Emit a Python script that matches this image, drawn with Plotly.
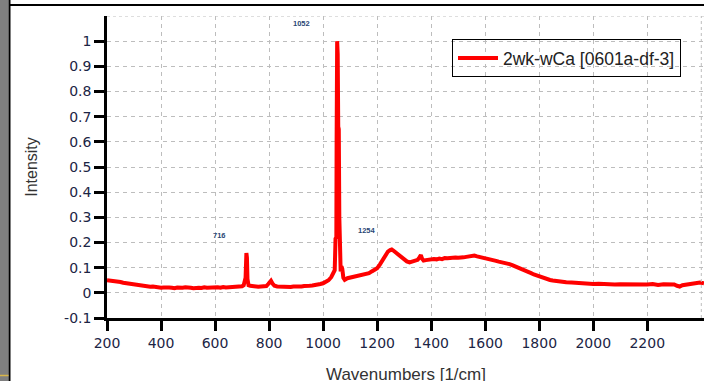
import plotly.graph_objects as go

# Raman spectrum, normalised intensity vs. wavenumber
wavenumbers = [
    200, 210, 220, 230, 240, 250, 260, 270, 280, 290, 300, 310, 320, 330, 340, 350,
    360, 370, 380, 390, 400, 410, 420, 430, 440, 450, 460, 470, 480, 490, 500, 510,
    520, 530, 540, 550, 560, 570, 580, 590, 600, 610, 620, 630, 640, 650, 660, 670,
    680, 690, 700, 706, 710, 713, 716, 718, 720, 724, 730, 740, 750, 760, 770, 780,
    790, 797, 803, 807, 812, 820, 830, 840, 850, 860, 870, 880, 890, 900, 910, 920,
    930, 940, 950, 960, 970, 980, 990, 1000, 1010, 1020, 1030, 1038, 1043, 1046, 1049, 1050,
    1052, 1054, 1056, 1058, 1060, 1062, 1065, 1068, 1071, 1075, 1080, 1090, 1100, 1110, 1120, 1130,
    1140, 1150, 1160, 1170, 1180, 1190, 1200, 1210, 1220, 1230, 1240, 1248, 1254, 1260, 1270, 1280,
    1290, 1300, 1310, 1320, 1330, 1340, 1350, 1356, 1362, 1366, 1372, 1380, 1390, 1400, 1410, 1420,
    1430, 1440, 1450, 1460, 1470, 1480, 1490, 1500, 1510, 1520, 1530, 1540, 1550, 1560, 1570, 1580,
    1590, 1600, 1610, 1620, 1630, 1640, 1650, 1660, 1670, 1680, 1690, 1700, 1710, 1720, 1730, 1740,
    1750, 1760, 1770, 1780, 1790, 1800, 1810, 1820, 1830, 1840, 1850, 1860, 1870, 1880, 1890, 1900,
    1920, 1940, 1960, 1980, 2000, 2020, 2040, 2060, 2080, 2100, 2120, 2140, 2160, 2180, 2200, 2220,
    2240, 2260, 2280, 2300, 2310, 2320, 2330, 2340, 2360, 2380, 2395, 2410,
]
intensity = [
    0.050, 0.049, 0.047, 0.046, 0.044, 0.043, 0.040, 0.038, 0.036, 0.035, 0.032, 0.031, 0.029, 0.027, 0.028, 0.025,
    0.024, 0.025, 0.022, 0.023, 0.020, 0.021, 0.019, 0.021, 0.020, 0.018, 0.021, 0.019, 0.020, 0.022, 0.019, 0.020,
    0.018, 0.021, 0.020, 0.019, 0.022, 0.020, 0.021, 0.019, 0.021, 0.022, 0.020, 0.023, 0.021, 0.022, 0.024, 0.022,
    0.023, 0.025, 0.026, 0.030, 0.052, 0.060, 0.158, 0.140, 0.055, 0.030, 0.028, 0.026, 0.025, 0.024, 0.025, 0.024,
    0.027, 0.035, 0.047, 0.048, 0.038, 0.028, 0.025, 0.024, 0.026, 0.024, 0.025, 0.023, 0.025, 0.024, 0.026, 0.025,
    0.027, 0.026, 0.028, 0.029, 0.030, 0.032, 0.035, 0.038, 0.042, 0.050, 0.062, 0.078, 0.090, 0.215, 0.220, 0.600,
    1.000, 0.950, 0.660, 0.650, 0.300, 0.100, 0.085, 0.105, 0.095, 0.060, 0.052, 0.058, 0.060, 0.062, 0.065, 0.066,
    0.068, 0.070, 0.073, 0.078, 0.085, 0.090, 0.098, 0.112, 0.130, 0.148, 0.164, 0.170, 0.172, 0.168, 0.160, 0.150,
    0.140, 0.132, 0.125, 0.121, 0.124, 0.128, 0.131, 0.140, 0.150, 0.136, 0.128, 0.130, 0.132, 0.131, 0.134, 0.133,
    0.136, 0.134, 0.138, 0.137, 0.139, 0.138, 0.140, 0.139, 0.142, 0.141, 0.143, 0.144, 0.146, 0.148, 0.145, 0.143,
    0.141, 0.137, 0.136, 0.132, 0.130, 0.127, 0.124, 0.122, 0.119, 0.116, 0.114, 0.110, 0.106, 0.102, 0.098, 0.094,
    0.089, 0.084, 0.078, 0.073, 0.069, 0.064, 0.060, 0.057, 0.054, 0.051, 0.049, 0.047, 0.046, 0.044, 0.043, 0.042,
    0.041, 0.039, 0.038, 0.036, 0.035, 0.036, 0.034, 0.035, 0.033, 0.034, 0.033, 0.035, 0.032, 0.034, 0.033, 0.035,
    0.031, 0.034, 0.032, 0.033, 0.028, 0.025, 0.030, 0.032, 0.034, 0.037, 0.041, 0.038,
]

series_name = "2wk-wCa [0601a-df-3]"
x_title = "Wavenumbers [1/cm]"
y_title = "Intensity"

# peak labels and where their text sits
peak_labels = [716, 1052, 1254]
label_x = [615, 919, 1163]
label_y = [0.226, 1.071, 0.246]

x_ticks = [200, 400, 600, 800, 1000, 1200, 1400, 1600, 1800, 2000, 2200]
y_ticks = [-0.1, 0, 0.1, 0.2, 0.3, 0.4, 0.5, 0.6, 0.7, 0.8, 0.9, 1]
y_tick_text = ["-0.1", "0", "0.1", "0.2", "0.3", "0.4", "0.5", "0.6", "0.7", "0.8", "0.9", "1"]

W, H = 704, 381
ML, MR, MT, MB = 107, 0, 16, 63
PW, PH = W - ML - MR, H - MT - MB


def px(xp):
    return (xp - ML) / PW


def py(yp):
    return (H - MB - yp) / PH


tick_font = dict(family="DejaVu Sans", size=14, color="#1c2545")
grid_color = "#bdbdbd"
grid_dash = "4px,4px"

fig = go.Figure()
fig.add_trace(go.Scatter(
    x=wavenumbers, y=intensity, mode="lines", name=series_name,
    line=dict(color="#ff0000", width=4),
    showlegend=True,
))

for lab, lx, ly in zip(peak_labels, label_x, label_y):
    fig.add_annotation(
        x=lx, y=ly, xref="x", yref="y", text=str(lab), showarrow=False,
        font=dict(family="Liberation Sans", size=7.5, color="#2a4775", weight="bold"),
    )

# x axis title, placed below the tick labels
fig.add_annotation(
    x=0.5, y=py(374), xref="paper", yref="paper", xanchor="center", yanchor="middle",
    text=x_title, showarrow=False,
    font=dict(family="Liberation Sans", size=17, color="#333333"),
)

shapes = [
    # gridlines at the far edges of the ranges
    dict(type="line", xref="x", yref="y", x0=200, x1=2410, y0=1.1, y1=1.1,
         line=dict(color=grid_color, width=1, dash="dot"), layer="above"),
    dict(type="line", xref="x", yref="y", x0=2400, x1=2400, y0=-0.1, y1=1.1,
         line=dict(color=grid_color, width=1, dash="dot"), layer="above"),
    # window frame
    dict(type="rect", xref="paper", yref="paper", x0=px(0), x1=px(8.5), y0=py(H), y1=py(0),
         fillcolor="#7f7f7f", line=dict(width=0)),
    dict(type="line", xref="paper", yref="paper", x0=px(9.5), x1=px(9.5), y0=py(H), y1=py(0),
         line=dict(color="#000000", width=2)),
    dict(type="line", xref="paper", yref="paper", x0=px(9), x1=px(W), y0=py(5), y1=py(5),
         line=dict(color="#000000", width=2)),
    dict(type="line", xref="paper", yref="paper", x0=px(0), x1=px(8.5), y0=py(375.5), y1=py(375.5),
         line=dict(color="#d8b64a", width=1.5)),
]

fig.update_layout(
    width=W, height=H,
    margin=dict(l=ML, r=MR, t=MT, b=MB, autoexpand=False),
    paper_bgcolor="#ffffff", plot_bgcolor="#ffffff",
    shapes=shapes,
    legend=dict(
        x=px(681), y=py(39), xanchor="right", yanchor="top",
        bgcolor="rgba(0,0,0,0)", bordercolor="#000000", borderwidth=1,
        font=dict(family="Liberation Sans", size=17.5, color="#222222"),
        itemwidth=40,
    ),
    xaxis=dict(
        range=[200, 2410], tickvals=x_ticks, ticktext=[str(v) for v in x_ticks],
        showline=True, linecolor="#000000", linewidth=2.5,
        ticks="outside", ticklen=10, tickwidth=2.5, tickcolor="#000000",
        tickfont=tick_font,
        showgrid=True, gridcolor=grid_color, gridwidth=1, griddash=grid_dash,
        zeroline=False, automargin=False,
    ),
    yaxis=dict(
        range=[-0.1, 1.1], tickvals=y_ticks, ticktext=y_tick_text,
        showline=True, linecolor="#000000", linewidth=2.5,
        ticks="outside", ticklen=10, tickwidth=2.5, tickcolor="#000000",
        tickfont=tick_font,
        showgrid=True, gridcolor=grid_color, gridwidth=1, griddash=grid_dash,
        zeroline=False, automargin=False,
        title=dict(text=y_title, standoff=23,
                   font=dict(family="Liberation Sans", size=16, color="#333333")),
    ),
)

fig.write_html("out.html")
